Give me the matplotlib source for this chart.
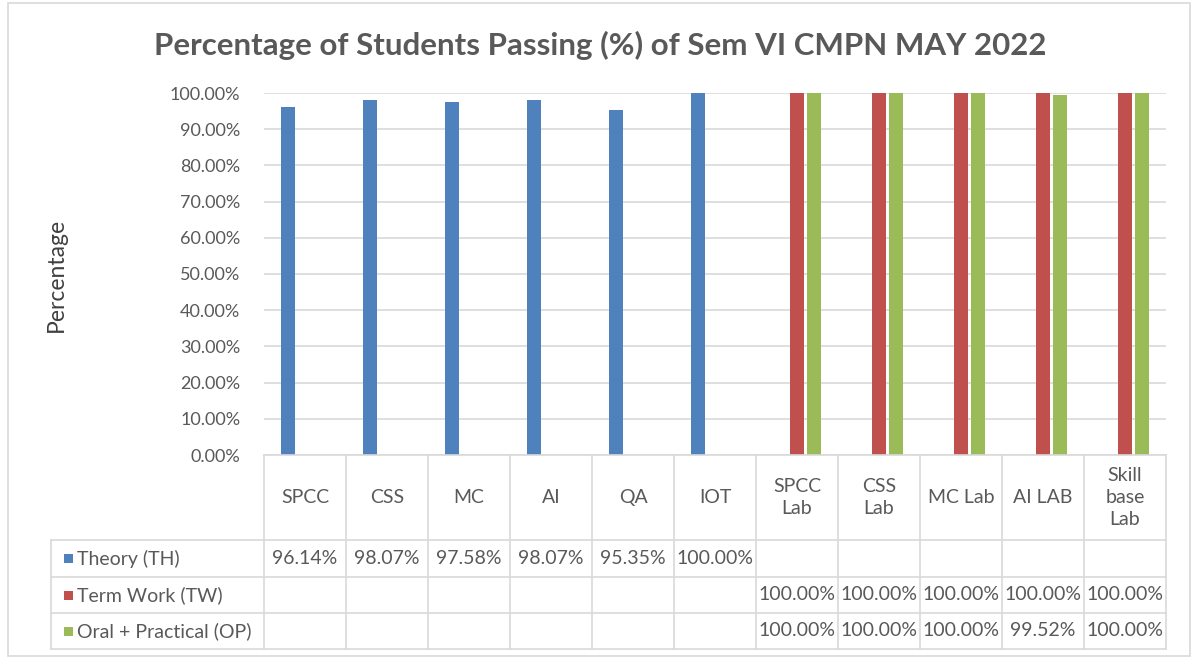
import matplotlib
matplotlib.use("Agg")
import matplotlib.pyplot as plt
import numpy as np
from matplotlib.patches import Rectangle
from matplotlib.lines import Line2D
from matplotlib.transforms import blended_transform_factory

# ---------------- data ----------------
categories = ["SPCC", "CSS", "MC", "AI", "QA", "IOT",
              "SPCC\nLab", "CSS\nLab", "MC Lab", "AI LAB", "Skill\nbase\nLab"]
series_names = ["Theory (TH)", "Term Work (TW)", "Oral + Practical (OP)"]
nan = float("nan")
theory = [96.14, 98.07, 97.58, 98.07, 95.35, 100.00, nan, nan, nan, nan, nan]
term_work = [nan, nan, nan, nan, nan, nan, 100.00, 100.00, 100.00, 100.00, 100.00]
oral_practical = [nan, nan, nan, nan, nan, nan, 100.00, 100.00, 100.00, 99.52, 100.00]
y_ticks = [0, 10, 20, 30, 40, 50, 60, 70, 80, 90, 100]
title = "Percentage of Students Passing (%) of Sem VI CMPN MAY 2022"
y_label = "Percentage"

series = [theory, term_work, oral_practical]
colors = ["#4f81bd", "#c0504d", "#9bbb59"]
offsets = [-0.21, 0.0, 0.21]
bar_w = 0.17

TXT = "#595959"
GRID = "#d9d9d9"
FONT = "Lato"
plt.rcParams["font.family"] = [FONT, "DejaVu Sans"]

W, H = 1199, 660
fig = plt.figure(figsize=(W / 100, H / 100), dpi=100)
fig.patch.set_facecolor("white")


def fx(px):
    return px / W


def fy(py):
    return 1 - py / H


# plot area
PL, PR, PT, PB = 264, 1166, 93, 455
ax = fig.add_axes([fx(PL), fy(PB), fx(PR) - fx(PL), fy(PT) - fy(PB)])
n = len(categories)
x = np.arange(n)
ax.set_xlim(-0.5, n - 0.5)
ax.set_ylim(0, 100)

for vals, c, off in zip(series, colors, offsets):
    idx = [i for i, v in enumerate(vals) if not np.isnan(v)]
    ax.bar([x[i] + off for i in idx], [vals[i] for i in idx], width=bar_w,
           color=c, zorder=3, linewidth=0)

ax.set_yticks(y_ticks)
ax.set_yticklabels([f"{v:.2f}%" for v in y_ticks], fontsize=13, color=TXT)
ax.tick_params(axis="y", length=0, pad=17)
ax.set_xticks([])
ax.yaxis.grid(True, color=GRID, linewidth=1.2, zorder=0)
for s in ax.spines.values():
    s.set_visible(False)

# ---------------- data table ----------------
blend = blended_transform_factory(ax.transData, fig.transFigure)
TL = 51          # table left edge (px)
HB = 540         # header bottom
rows_y = [540, 577, 613, 649]  # row boundaries


def hline(x0, x1, py):
    fig.add_artist(Line2D([x0, x1], [fy(py), fy(py)], transform=fig.transFigure,
                          color=GRID, linewidth=1.2, clip_on=False))


# horizontal lines
for py in rows_y:
    hline(fx(TL), fx(PR), py)
hline(fx(PL), fx(PR), PB)

# vertical lines at category boundaries
for k in range(n + 1):
    xb = -0.5 + k
    fig.add_artist(Line2D([xb, xb], [fy(PB), fy(rows_y[-1])], transform=blend,
                          color=GRID, linewidth=1.2, clip_on=False))
# left edge of row-label column
fig.add_artist(Line2D([fx(TL), fx(TL)], [fy(rows_y[0]), fy(rows_y[-1])],
                      transform=fig.transFigure, color=GRID, linewidth=1.2))

# category header labels
for i, cat in enumerate(categories):
    ax.text(x[i], fy((PB + HB) / 2), cat, transform=blend, ha="center",
            va="center", fontsize=14, color=TXT, linespacing=1.35, clip_on=False)

# row labels with legend keys, and values
for r, (name, vals, c) in enumerate(zip(series_names, series, colors)):
    yc = (rows_y[r] + rows_y[r + 1]) / 2
    fig.add_artist(Rectangle((fx(64), fy(yc + 4.5)), fx(9), 9 / H,
                             transform=fig.transFigure, facecolor=c,
                             edgecolor="none"))
    fig.text(fx(77), fy(yc), name, ha="left", va="center", fontsize=14,
             color=TXT)
    for i, v in enumerate(vals):
        if not np.isnan(v):
            ax.text(x[i], fy(yc), f"{v:.2f}%", transform=blend, ha="center",
                    va="center", fontsize=14, color=TXT, clip_on=False)

# title and axis label
fig.text(fx(600), fy(45), title, ha="center", va="center", fontsize=22.5,
         fontweight="bold", color=TXT)
fig.text(fx(56), fy(275), y_label, ha="center", va="center", rotation=90,
         fontsize=16.5, color="#404040")

# chart border
fig.add_artist(Rectangle((fx(8), fy(656)), fx(1190 - 8), (656 - 3) / H,
                         transform=fig.transFigure, facecolor="none",
                         edgecolor=GRID, linewidth=1.2))

fig.savefig("out.png", dpi=100)
